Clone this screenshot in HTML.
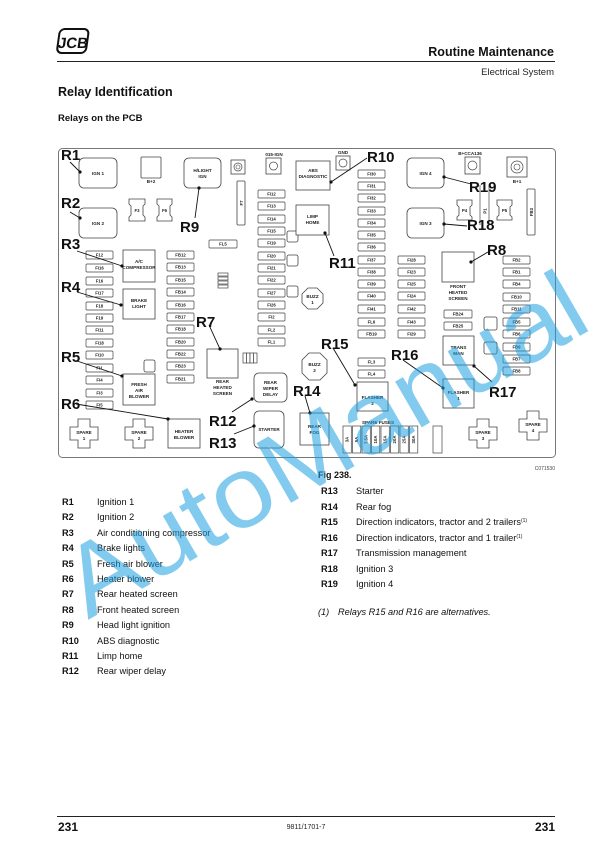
<!DOCTYPE html>
<html><head><meta charset="utf-8"><style>
html,body{margin:0;padding:0;background:#fff}
svg{display:block}
text{font-family:"Liberation Sans",Arial,sans-serif}
.f{font-size:4.3px;text-anchor:middle;fill:#222;font-weight:bold}
.b{font-size:4.6px;text-anchor:middle;fill:#222;font-weight:bold}
.r{font-size:15px;font-weight:bold;fill:#111}
.fu{fill:#fff;stroke:#444;stroke-width:0.7}
.bx{fill:#fff;stroke:#444;stroke-width:0.8}
.ln{stroke:#111;stroke-width:0.9}
.lg{font-size:9.2px;fill:#111}
.lb{font-size:9.2px;font-weight:bold;fill:#111}
</style></head><body>
<svg width="612" height="866" viewBox="0 0 612 866" xmlns="http://www.w3.org/2000/svg">
<!-- header -->
<g transform="translate(57,29) skewX(-8)">
<rect x="3" y="0" width="29" height="24" rx="5" fill="#fff" stroke="#111" stroke-width="2"/>
<text x="18" y="19" font-size="15" font-weight="bold" text-anchor="middle" fill="#111" style="font-family:'Liberation Sans Narrow','Liberation Sans',sans-serif">JCB</text>
</g>
<text x="554" y="56" font-size="12.5" font-weight="bold" text-anchor="end" fill="#111">Routine Maintenance</text>
<line x1="57" y1="61.5" x2="555" y2="61.5" stroke="#222" stroke-width="1"/>
<text x="554" y="75" font-size="9.5" text-anchor="end" fill="#222">Electrical System</text>
<text x="58" y="96" font-size="12.5" font-weight="bold" fill="#111">Relay Identification</text>
<text x="58" y="121" font-size="9.5" font-weight="bold" fill="#111">Relays on the PCB</text>

<!-- frame -->
<rect x="58.5" y="148.5" width="497" height="309" rx="4" fill="#fff" stroke="#777" stroke-width="1"/>

<!-- left fuses -->
<g>
<rect class="fu" x="86" y="251" width="27" height="8" rx="1"/><text class="f" x="99.5" y="256.6">F12</text>
<rect class="fu" x="86" y="264" width="27" height="8" rx="1"/><text class="f" x="99.5" y="269.6">FI16</text>
<rect class="fu" x="86" y="277" width="27" height="8" rx="1"/><text class="f" x="99.5" y="282.6">F16</text>
<rect class="fu" x="86" y="289" width="27" height="8" rx="1"/><text class="f" x="99.5" y="294.6">FI17</text>
<rect class="fu" x="86" y="302" width="27" height="8" rx="1"/><text class="f" x="99.5" y="307.6">F18</text>
<rect class="fu" x="86" y="314" width="27" height="8" rx="1"/><text class="f" x="99.5" y="319.6">F19</text>
<rect class="fu" x="86" y="326" width="27" height="8" rx="1"/><text class="f" x="99.5" y="331.6">FI11</text>
<rect class="fu" x="86" y="339" width="27" height="8" rx="1"/><text class="f" x="99.5" y="344.6">FI18</text>
<rect class="fu" x="86" y="351" width="27" height="8" rx="1"/><text class="f" x="99.5" y="356.6">FI10</text>
<rect class="fu" x="86" y="364" width="27" height="8" rx="1"/><text class="f" x="99.5" y="369.6">FI1</text>
<rect class="fu" x="86" y="376" width="27" height="8" rx="1"/><text class="f" x="99.5" y="381.6">FI4</text>
<rect class="fu" x="86" y="389" width="27" height="8" rx="1"/><text class="f" x="99.5" y="394.6">FI3</text>
<rect class="fu" x="86" y="401" width="27" height="8" rx="1"/><text class="f" x="99.5" y="406.6">FI5</text>
</g>
<!-- FB column -->
<g>
<rect class="fu" x="167" y="251" width="27" height="8" rx="1"/><text class="f" x="180.5" y="256.6">FB12</text>
<rect class="fu" x="167" y="263" width="27" height="8" rx="1"/><text class="f" x="180.5" y="268.6">FB13</text>
<rect class="fu" x="167" y="276" width="27" height="8" rx="1"/><text class="f" x="180.5" y="281.6">FB15</text>
<rect class="fu" x="167" y="288" width="27" height="8" rx="1"/><text class="f" x="180.5" y="293.6">FB14</text>
<rect class="fu" x="167" y="301" width="27" height="8" rx="1"/><text class="f" x="180.5" y="306.6">FB16</text>
<rect class="fu" x="167" y="313" width="27" height="8" rx="1"/><text class="f" x="180.5" y="318.6">FB17</text>
<rect class="fu" x="167" y="325" width="27" height="8" rx="1"/><text class="f" x="180.5" y="330.6">FB18</text>
<rect class="fu" x="167" y="338" width="27" height="8" rx="1"/><text class="f" x="180.5" y="343.6">FB20</text>
<rect class="fu" x="167" y="350" width="27" height="8" rx="1"/><text class="f" x="180.5" y="355.6">FB22</text>
<rect class="fu" x="167" y="362" width="27" height="8" rx="1"/><text class="f" x="180.5" y="367.6">FB23</text>
<rect class="fu" x="167" y="375" width="27" height="8" rx="1"/><text class="f" x="180.5" y="380.6">FB21</text>
</g>
<!-- FI12 column -->
<g>
<rect class="fu" x="258" y="190" width="27" height="8" rx="1"/><text class="f" x="271.5" y="195.6">FI12</text>
<rect class="fu" x="258" y="202" width="27" height="8" rx="1"/><text class="f" x="271.5" y="207.6">FI13</text>
<rect class="fu" x="258" y="215" width="27" height="8" rx="1"/><text class="f" x="271.5" y="220.6">FI14</text>
<rect class="fu" x="258" y="227" width="27" height="8" rx="1"/><text class="f" x="271.5" y="232.6">FI15</text>
<rect class="fu" x="258" y="239" width="27" height="8" rx="1"/><text class="f" x="271.5" y="244.6">FI19</text>
<rect class="fu" x="258" y="252" width="27" height="8" rx="1"/><text class="f" x="271.5" y="257.6">FI20</text>
<rect class="fu" x="258" y="264" width="27" height="8" rx="1"/><text class="f" x="271.5" y="269.6">FI21</text>
<rect class="fu" x="258" y="276" width="27" height="8" rx="1"/><text class="f" x="271.5" y="281.6">FI22</text>
<rect class="fu" x="258" y="289" width="27" height="8" rx="1"/><text class="f" x="271.5" y="294.6">FI27</text>
<rect class="fu" x="258" y="301" width="27" height="8" rx="1"/><text class="f" x="271.5" y="306.6">FI26</text>
<rect class="fu" x="258" y="313" width="27" height="8" rx="1"/><text class="f" x="271.5" y="318.6">FI2</text>
<rect class="fu" x="258" y="326" width="27" height="8" rx="1"/><text class="f" x="271.5" y="331.6">FL2</text>
<rect class="fu" x="258" y="338" width="27" height="8" rx="1"/><text class="f" x="271.5" y="343.6">FL1</text>
</g>
<!-- FI30 column -->
<g>
<rect class="fu" x="358" y="170" width="27" height="8" rx="1"/><text class="f" x="371.5" y="175.6">FI30</text>
<rect class="fu" x="358" y="182" width="27" height="8" rx="1"/><text class="f" x="371.5" y="187.6">FI31</text>
<rect class="fu" x="358" y="194" width="27" height="8" rx="1"/><text class="f" x="371.5" y="199.6">FI32</text>
<rect class="fu" x="358" y="207" width="27" height="8" rx="1"/><text class="f" x="371.5" y="212.6">FI33</text>
<rect class="fu" x="358" y="219" width="27" height="8" rx="1"/><text class="f" x="371.5" y="224.6">FI34</text>
<rect class="fu" x="358" y="231" width="27" height="8" rx="1"/><text class="f" x="371.5" y="236.6">FI35</text>
<rect class="fu" x="358" y="243" width="27" height="8" rx="1"/><text class="f" x="371.5" y="248.6">FI36</text>
<rect class="fu" x="358" y="256" width="27" height="8" rx="1"/><text class="f" x="371.5" y="261.6">FI37</text>
<rect class="fu" x="358" y="268" width="27" height="8" rx="1"/><text class="f" x="371.5" y="273.6">FI38</text>
<rect class="fu" x="358" y="280" width="27" height="8" rx="1"/><text class="f" x="371.5" y="285.6">FI39</text>
<rect class="fu" x="358" y="292" width="27" height="8" rx="1"/><text class="f" x="371.5" y="297.6">FI40</text>
<rect class="fu" x="358" y="305" width="27" height="8" rx="1"/><text class="f" x="371.5" y="310.6">FI41</text>
<rect class="fu" x="358" y="318" width="27" height="8" rx="1"/><text class="f" x="371.5" y="323.6">FL6</text>
<rect class="fu" x="358" y="330" width="27" height="8" rx="1"/><text class="f" x="371.5" y="335.6">FB19</text>
<rect class="fu" x="358" y="358" width="27" height="8" rx="1"/><text class="f" x="371.5" y="363.6">FL3</text>
<rect class="fu" x="358" y="370" width="27" height="8" rx="1"/><text class="f" x="371.5" y="375.6">FL4</text>
</g>
<!-- FI28 column -->
<g>
<rect class="fu" x="398" y="256" width="27" height="8" rx="1"/><text class="f" x="411.5" y="261.6">FI28</text>
<rect class="fu" x="398" y="268" width="27" height="8" rx="1"/><text class="f" x="411.5" y="273.6">FI23</text>
<rect class="fu" x="398" y="280" width="27" height="8" rx="1"/><text class="f" x="411.5" y="285.6">FI25</text>
<rect class="fu" x="398" y="292" width="27" height="8" rx="1"/><text class="f" x="411.5" y="297.6">FI24</text>
<rect class="fu" x="398" y="305" width="27" height="8" rx="1"/><text class="f" x="411.5" y="310.6">FI42</text>
<rect class="fu" x="398" y="318" width="27" height="8" rx="1"/><text class="f" x="411.5" y="323.6">FI43</text>
<rect class="fu" x="398" y="330" width="27" height="8" rx="1"/><text class="f" x="411.5" y="335.6">FI29</text>
</g>
<!-- FB2 column -->
<g>
<rect class="fu" x="503" y="256" width="27" height="8" rx="1"/><text class="f" x="516.5" y="261.6">FB2</text>
<rect class="fu" x="503" y="268" width="27" height="8" rx="1"/><text class="f" x="516.5" y="273.6">FB1</text>
<rect class="fu" x="503" y="280" width="27" height="8" rx="1"/><text class="f" x="516.5" y="285.6">FB4</text>
<rect class="fu" x="503" y="293" width="27" height="8" rx="1"/><text class="f" x="516.5" y="298.6">FB10</text>
<rect class="fu" x="503" y="305" width="27" height="8" rx="1"/><text class="f" x="516.5" y="310.6">FB11</text>
<rect class="fu" x="503" y="318" width="27" height="8" rx="1"/><text class="f" x="516.5" y="323.6">FB5</text>
<rect class="fu" x="503" y="330" width="27" height="8" rx="1"/><text class="f" x="516.5" y="335.6">FB6</text>
<rect class="fu" x="503" y="343" width="27" height="8" rx="1"/><text class="f" x="516.5" y="348.6">FB9</text>
<rect class="fu" x="503" y="355" width="27" height="8" rx="1"/><text class="f" x="516.5" y="360.6">FB7</text>
<rect class="fu" x="503" y="367" width="27" height="8" rx="1"/><text class="f" x="516.5" y="372.6">FB8</text>
<rect class="fu" x="444" y="310" width="28" height="8" rx="1"/><text class="f" x="458" y="315.6">FB24</text>
<rect class="fu" x="444" y="322" width="28" height="8" rx="1"/><text class="f" x="458" y="327.6">FB25</text>
<rect class="fu" x="209" y="240" width="28" height="8" rx="1"/><text class="f" x="223" y="245.6">FL5</text>
</g>

<!-- relays / boxes -->
<rect class="bx" x="79" y="158" width="38" height="30" rx="5"/><text class="b" x="98" y="175">IGN 1</text>
<rect class="bx" x="79" y="208" width="38" height="30" rx="5"/><text class="b" x="98" y="225">IGN 2</text>
<rect class="bx" x="141" y="157" width="20" height="21" rx="1"/><text class="b" x="151" y="183">B+2</text>
<rect class="bx" x="184" y="158" width="37" height="30" rx="5"/><text class="b" x="202.5" y="172">H/LIGHT</text><text class="b" x="202.5" y="178">IGN</text>
<rect class="bx" x="231" y="160" width="14" height="14"/><circle cx="238" cy="167" r="4" fill="none" stroke="#444" stroke-width="0.7"/><circle cx="238" cy="167" r="2" fill="none" stroke="#444" stroke-width="0.6"/>
<text class="b" x="274" y="156">015-IGN</text>
<rect class="bx" x="266" y="158" width="15" height="16"/><circle cx="273.5" cy="166" r="4" fill="none" stroke="#444" stroke-width="0.7"/>
<rect class="bx" x="237" y="181" width="8" height="44" rx="1"/><text class="f" x="241" y="205" transform="rotate(-90 241 203)">F7</text>
<path class="bx" d="M129 199h16v5l-2 2v9l2 2v4h-16v-4l2-2v-9l-2-2z"/><text class="f" x="137" y="212">F3</text>
<path class="bx" d="M157 199h15v5l-2 2v9l2 2v4h-15v-4l2-2v-9l-2-2z"/><text class="f" x="164.5" y="212">F6</text>
<rect class="bx" x="123" y="250" width="32" height="32"/><text class="b" x="139" y="263">A/C</text><text class="b" x="139" y="269">COMPRESSOR</text>
<rect class="bx" x="123" y="289" width="32" height="30"/><text class="b" x="139" y="302">BRAKE</text><text class="b" x="139" y="308">LIGHT</text>
<rect class="bx" x="123" y="374" width="32" height="31"/><text class="b" x="139" y="386">FRESH</text><text class="b" x="139" y="392">AIR</text><text class="b" x="139" y="398">BLOWER</text>
<rect class="bx" x="168" y="419" width="32" height="29"/><text class="b" x="184" y="433">HEATER</text><text class="b" x="184" y="439">BLOWER</text>
<rect class="bx" x="144" y="360" width="11" height="12" rx="2"/>
<g fill="#fff" stroke="#444" stroke-width="0.7"><rect x="218" y="273" width="10" height="3"/><rect x="218" y="277" width="10" height="3"/><rect x="218" y="281" width="10" height="3"/><rect x="218" y="285" width="10" height="3"/></g>
<rect class="bx" x="207" y="349" width="31" height="29"/><text class="b" x="222.5" y="383">REAR</text><text class="b" x="222.5" y="389">HEATED</text><text class="b" x="222.5" y="395">SCREEN</text>
<g fill="#fff" stroke="#444" stroke-width="0.7"><rect x="243" y="353" width="3.5" height="10"/><rect x="246.5" y="353" width="3.5" height="10"/><rect x="250" y="353" width="3.5" height="10"/><rect x="253.5" y="353" width="3.5" height="10"/></g>
<rect class="bx" x="254" y="373" width="33" height="29" rx="5"/><text class="b" x="270.5" y="384">REAR</text><text class="b" x="270.5" y="390">WIPER</text><text class="b" x="270.5" y="396">DELAY</text>
<rect class="bx" x="254" y="411" width="30" height="37" rx="5"/><text class="b" x="269" y="431">STARTER</text>
<rect class="bx" x="287" y="231" width="11" height="11" rx="2"/><rect class="bx" x="287" y="255" width="11" height="11" rx="2"/><rect class="bx" x="287" y="286" width="11" height="11" rx="2"/>
<path class="bx" d="M308 288h9l6 6v9l-6 6h-9l-6-6v-9z"/><text class="b" x="312.5" y="298">BUZZ</text><text class="b" x="312.5" y="304">1</text>
<path class="bx" d="M309 353h11l7 7v13l-7 7h-11l-7-7v-13z"/><text class="b" x="314.5" y="366">BUZZ</text><text class="b" x="314.5" y="372">2</text>
<rect class="bx" x="296" y="161" width="34" height="29"/><text class="b" x="313" y="172">ABS</text><text class="b" x="313" y="178">DIAGNOSTIC</text>
<text class="b" x="343" y="154">GND</text><rect class="bx" x="336" y="156" width="14" height="14"/><circle cx="343" cy="163" r="4" fill="none" stroke="#444" stroke-width="0.7"/>
<rect class="bx" x="296" y="205" width="33" height="30"/><text class="b" x="312.5" y="218">LIMP</text><text class="b" x="312.5" y="224">HOME</text>
<rect class="bx" x="300" y="413" width="29" height="32"/><text class="b" x="314.5" y="428">REAR</text><text class="b" x="314.5" y="434">FOG</text>
<rect class="bx" x="357" y="382" width="31" height="29"/><text class="b" x="372.5" y="399">FLASHER</text><text class="b" x="372.5" y="405">2</text>
<rect class="bx" x="443" y="379" width="31" height="29"/><text class="b" x="458.5" y="394">FLASHER</text><text class="b" x="458.5" y="400">1</text>
<rect class="bx" x="443" y="336" width="31" height="29"/><text class="b" x="458.5" y="349">TRANS</text><text class="b" x="458.5" y="355">MAN</text>
<rect class="bx" x="442" y="252" width="32" height="30"/><text class="b" x="458" y="288">FRONT</text><text class="b" x="458" y="294">HEATED</text><text class="b" x="458" y="300">SCREEN</text>
<rect class="bx" x="484" y="317" width="13" height="13" rx="2"/><rect class="bx" x="484" y="342" width="13" height="12" rx="2"/>
<rect class="bx" x="407" y="158" width="37" height="30" rx="5"/><text class="b" x="425.5" y="175">IGN 4</text>
<rect class="bx" x="407" y="208" width="37" height="30" rx="5"/><text class="b" x="425.5" y="225">IGN 3</text>
<text class="b" x="470" y="155">B+CCA136</text><rect class="bx" x="465" y="157" width="15" height="17"/><circle cx="472.5" cy="165.5" r="4.5" fill="none" stroke="#444" stroke-width="0.7"/>
<rect class="bx" x="507" y="157" width="20" height="20"/><circle cx="517" cy="167" r="6" fill="none" stroke="#444" stroke-width="0.7"/><circle cx="517" cy="167" r="3" fill="none" stroke="#444" stroke-width="0.6"/><text class="b" x="517" y="183">B+1</text>
<path class="bx" d="M457 200h15v5l-2 2v8l2 2v3h-15v-3l2-2v-8l-2-2z"/><text class="f" x="464.5" y="212">P4</text>
<path class="bx" d="M497 200h15v5l-2 2v8l2 2v3h-15v-3l2-2v-8l-2-2z"/><text class="f" x="504.5" y="212">P5</text>
<line x1="480" y1="185" x2="480" y2="225" stroke="#444" stroke-width="0.7"/><line x1="489" y1="185" x2="489" y2="225" stroke="#444" stroke-width="0.7"/><text class="f" x="484.5" y="213" transform="rotate(-90 484.5 211)">P1</text>
<rect class="bx" x="527" y="189" width="8" height="46" rx="1"/><text class="f" x="531" y="214" transform="rotate(-90 531 212)">FB3</text>
<!-- spare fuses -->
<text class="b" x="378" y="424">SPARE FUSES</text>
<g fill="#fff" stroke="#444" stroke-width="0.7">
<rect x="343" y="426" width="8.3" height="27"/><rect x="352.5" y="426" width="8.3" height="27"/><rect x="362" y="426" width="8.3" height="27"/><rect x="371.5" y="426" width="8.3" height="27"/><rect x="381" y="426" width="8.3" height="27"/><rect x="390.5" y="426" width="8.3" height="27"/><rect x="400" y="426" width="8.3" height="27"/><rect x="409.5" y="426" width="8.3" height="27"/><rect x="433" y="426" width="9" height="27"/>
</g>
<g class="f">
<text class="f" transform="translate(348.7 439.5) rotate(-90)">3A</text><text class="f" transform="translate(358.2 439.5) rotate(-90)">5A</text><text class="f" transform="translate(367.7 439.5) rotate(-90)">7.5A</text><text class="f" transform="translate(377.2 439.5) rotate(-90)">10A</text><text class="f" transform="translate(386.7 439.5) rotate(-90)">15A</text><text class="f" transform="translate(396.2 439.5) rotate(-90)">20A</text><text class="f" transform="translate(405.7 439.5) rotate(-90)">25A</text><text class="f" transform="translate(415.2 439.5) rotate(-90)">30A</text>
</g>
<!-- spare crosses -->
<path class="bx" d="M78 419h12v8h8v13h-8v8h-12v-8h-8v-13h8z"/><text class="b" x="84" y="434">SPARE</text><text class="b" x="84" y="440">1</text>
<path class="bx" d="M133 419h12v8h8v13h-8v8h-12v-8h-8v-13h8z"/><text class="b" x="139" y="434">SPARE</text><text class="b" x="139" y="440">2</text>
<path class="bx" d="M477 419h12v8h8v13h-8v8h-12v-8h-8v-13h8z"/><text class="b" x="483" y="434">SPARE</text><text class="b" x="483" y="440">3</text>
<path class="bx" d="M527 411h12v8h8v13h-8v8h-12v-8h-8v-13h8z"/><text class="b" x="533" y="426">SPARE</text><text class="b" x="533" y="432">4</text>
<text x="555" y="470" font-size="5" text-anchor="end" fill="#444">C071530</text>

<!-- callouts -->
<g class="ln">
<line x1="70" y1="162" x2="80" y2="172"/><line x1="70" y1="212" x2="80" y2="218"/>
<line x1="77" y1="251" x2="122" y2="266"/><line x1="77" y1="292" x2="121" y2="305"/>
<line x1="77" y1="361" x2="122" y2="376"/><line x1="76" y1="404" x2="168" y2="419"/>
<line x1="209" y1="325" x2="220" y2="349"/><line x1="488" y1="252" x2="471" y2="262"/>
<line x1="195" y1="218" x2="199" y2="188"/><line x1="367" y1="158" x2="331" y2="182"/>
<line x1="334" y1="256" x2="325" y2="233"/><line x1="232" y1="412" x2="252" y2="399"/>
<line x1="234" y1="434" x2="254" y2="426"/><line x1="305" y1="396" x2="310" y2="413"/>
<line x1="333" y1="348" x2="355" y2="385"/><line x1="403" y1="360" x2="443" y2="388"/>
<line x1="492" y1="382" x2="474" y2="366"/><line x1="467" y1="226" x2="444" y2="224"/>
<line x1="471" y1="184" x2="444" y2="177"/>
</g>
<g fill="#111">
<circle cx="80" cy="172" r="1.6"/><circle cx="80" cy="218" r="1.6"/><circle cx="122" cy="266" r="1.6"/><circle cx="121" cy="305" r="1.6"/><circle cx="122" cy="376" r="1.6"/><circle cx="168" cy="419" r="1.6"/><circle cx="220" cy="349" r="1.6"/><circle cx="471" cy="262" r="1.6"/><circle cx="199" cy="188" r="1.6"/><circle cx="331" cy="182" r="1.6"/><circle cx="325" cy="233" r="1.6"/><circle cx="252" cy="399" r="1.6"/><circle cx="254" cy="426" r="1.6"/><circle cx="310" cy="413" r="1.6"/><circle cx="355" cy="385" r="1.6"/><circle cx="443" cy="388" r="1.6"/><circle cx="474" cy="366" r="1.6"/><circle cx="444" cy="224" r="1.6"/><circle cx="444" cy="177" r="1.6"/>
</g>
<g class="r">
<text class="r" x="61" y="160">R1</text><text class="r" x="61" y="208">R2</text><text class="r" x="61" y="249">R3</text><text class="r" x="61" y="292">R4</text><text class="r" x="61" y="362">R5</text><text class="r" x="61" y="409">R6</text>
<text class="r" x="196" y="327">R7</text><text class="r" x="487" y="255">R8</text><text class="r" x="180" y="232">R9</text><text class="r" x="367" y="162">R10</text><text class="r" x="329" y="268">R11</text>
<text class="r" x="209" y="426">R12</text><text class="r" x="209" y="448">R13</text><text class="r" x="293" y="396">R14</text><text class="r" x="321" y="349">R15</text><text class="r" x="391" y="360">R16</text><text class="r" x="489" y="397">R17</text><text class="r" x="467" y="230">R18</text><text class="r" x="469" y="192">R19</text>
</g>

<!-- legend -->
<text x="318" y="478" font-size="9" font-weight="bold" fill="#111">Fig 238.</text>
<g>
<text class="lb" x="62" y="505">R1</text><text class="lg" x="97" y="505">Ignition 1</text>
<text class="lb" x="62" y="520">R2</text><text class="lg" x="97" y="520">Ignition 2</text>
<text class="lb" x="62" y="536">R3</text><text class="lg" x="97" y="536">Air conditioning compressor</text>
<text class="lb" x="62" y="551">R4</text><text class="lg" x="97" y="551">Brake lights</text>
<text class="lb" x="62" y="567">R5</text><text class="lg" x="97" y="567">Fresh air blower</text>
<text class="lb" x="62" y="582">R6</text><text class="lg" x="97" y="582">Heater blower</text>
<text class="lb" x="62" y="597">R7</text><text class="lg" x="97" y="597">Rear heated screen</text>
<text class="lb" x="62" y="613">R8</text><text class="lg" x="97" y="613">Front heated screen</text>
<text class="lb" x="62" y="628">R9</text><text class="lg" x="97" y="628">Head light ignition</text>
<text class="lb" x="62" y="644">R10</text><text class="lg" x="97" y="644">ABS diagnostic</text>
<text class="lb" x="62" y="659">R11</text><text class="lg" x="97" y="659">Limp home</text>
<text class="lb" x="62" y="674">R12</text><text class="lg" x="97" y="674">Rear wiper delay</text>
<text class="lb" x="321" y="494">R13</text><text class="lg" x="356" y="494">Starter</text>
<text class="lb" x="321" y="510">R14</text><text class="lg" x="356" y="510">Rear fog</text>
<text class="lb" x="321" y="525">R15</text><text class="lg" x="356" y="525">Direction indicators, tractor and 2 trailers<tspan font-size="5" dy="-3">(1)</tspan></text>
<text class="lb" x="321" y="541">R16</text><text class="lg" x="356" y="541">Direction indicators, tractor and 1 trailer<tspan font-size="5" dy="-3">(1)</tspan></text>
<text class="lb" x="321" y="556">R17</text><text class="lg" x="356" y="556">Transmission management</text>
<text class="lb" x="321" y="572">R18</text><text class="lg" x="356" y="572">Ignition 3</text>
<text class="lb" x="321" y="587">R19</text><text class="lg" x="356" y="587">Ignition 4</text>
<text class="lg" x="318" y="615" font-style="italic">(1)</text><text class="lg" x="338" y="615" font-style="italic">Relays R15 and R16 are alternatives.</text>
</g>

<!-- watermark -->
<text x="88" y="620" font-size="100" fill="#1ea0e0" fill-opacity="0.55" textLength="585" lengthAdjust="spacingAndGlyphs" transform="rotate(-30 88 620)">AutoManual</text>

<!-- footer -->
<line x1="57" y1="816.5" x2="555" y2="816.5" stroke="#222" stroke-width="1"/>
<text x="58" y="831" font-size="12" font-weight="bold" fill="#111">231</text>
<text x="555" y="831" font-size="12" font-weight="bold" text-anchor="end" fill="#111">231</text>
<text x="306" y="829" font-size="7" text-anchor="middle" fill="#222">9811/1701-7</text>
</svg>
</body></html>
